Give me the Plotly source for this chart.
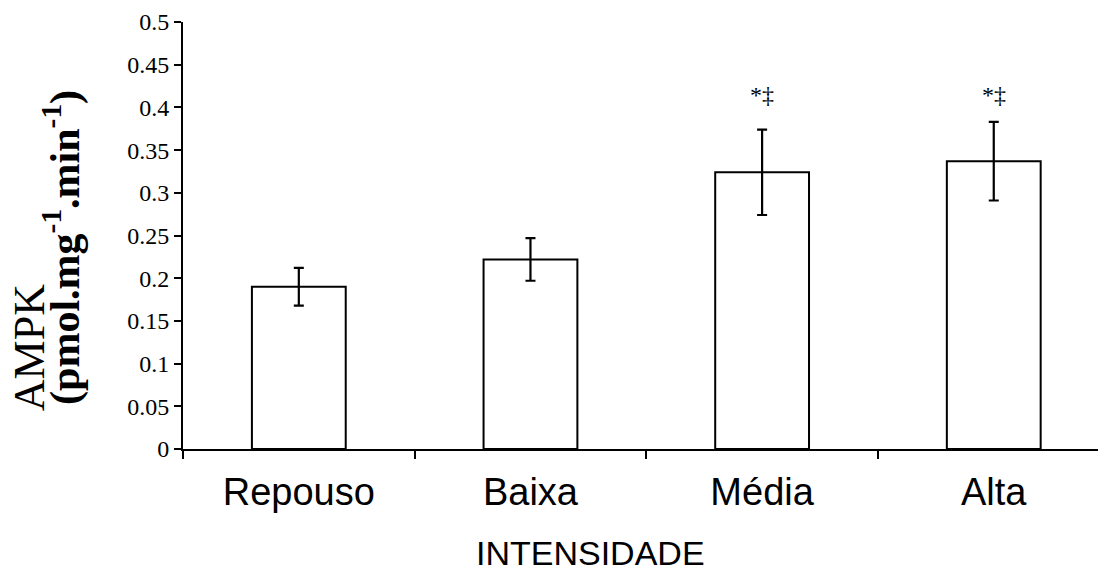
import plotly.graph_objects as go

# AMPK activity by exercise intensity (mean ± error)
categories = ["Repouso", "Baixa", "Média", "Alta"]
ampk_mean = [0.190, 0.222, 0.324, 0.337]
ampk_err = [0.022, 0.025, 0.050, 0.046]
significance = ["", "", "*‡", "*‡"]
sig_y = 0.397

y_ticks = [0, 0.05, 0.1, 0.15, 0.2, 0.25, 0.3, 0.35, 0.4, 0.45, 0.5]
y_ticktext = ["0", "0.05", "0.1", "0.15", "0.2", "0.25", "0.3", "0.35", "0.4", "0.45", "0.5"]

serif = "Liberation Serif, Times New Roman, serif"
sans = "Liberation Sans, Arial, sans-serif"

fig = go.Figure()
fig.add_trace(go.Bar(
    x=categories,
    y=ampk_mean,
    width=0.405,
    marker=dict(color="white", line=dict(color="black", width=2)),
    error_y=dict(type="data", array=ampk_err, visible=True,
                 color="black", thickness=2.2, width=5),
    showlegend=False,
))

for cat, mark in zip(categories, significance):
    if mark:
        fig.add_annotation(x=cat, y=sig_y, text=mark, showarrow=False,
                           xanchor="center", yanchor="bottom",
                           font=dict(family=serif, size=24, color="black"))

# Axis titles
fig.add_annotation(xref="paper", yref="paper", x=0.445, y=-0.243,
                   xanchor="center", yanchor="middle", showarrow=False,
                   borderpad=0,
                   text="INTENSIDADE",
                   font=dict(family=sans, size=34, color="black"))
fig.add_annotation(xref="paper", yref="paper", x=0, y=0.236,
                   xshift=-154, xanchor="center", yanchor="middle",
                   textangle=-90, showarrow=False, text="AMPK",
                   font=dict(family=serif, size=44, color="black"))
fig.add_annotation(xref="paper", yref="paper", x=0, y=0.471,
                   xshift=-121, xanchor="center", yanchor="middle",
                   textangle=-90, showarrow=False,
                   text="<b>(pmol.mg<sup>-1</sup>.min<sup>-1</sup>)</b>",
                   font=dict(family=serif, size=42, color="black"))

fig.update_xaxes(
    range=[-0.5, 3.45],
    showline=True, linecolor="black", linewidth=2,
    ticks="outside", tickson="boundaries", ticklen=8, tickwidth=2, tickcolor="black",
    ticklabelstandoff=8,
    tickfont=dict(family=sans, size=38, color="black"),
    showgrid=False, zeroline=False,
)
fig.update_yaxes(
    range=[0, 0.5],
    tickvals=y_ticks, ticktext=y_ticktext,
    showline=True, linecolor="black", linewidth=2,
    ticks="outside", ticklen=7, tickwidth=2, tickcolor="black",
    tickfont=dict(family=serif, size=24, color="black"),
    showgrid=False, zeroline=False,
)

fig.update_layout(
    width=1098, height=575,
    margin=dict(l=183, r=0, t=22, b=126),
    paper_bgcolor="white", plot_bgcolor="white",
    bargap=0.5,
)

fig.write_html("out.html")
